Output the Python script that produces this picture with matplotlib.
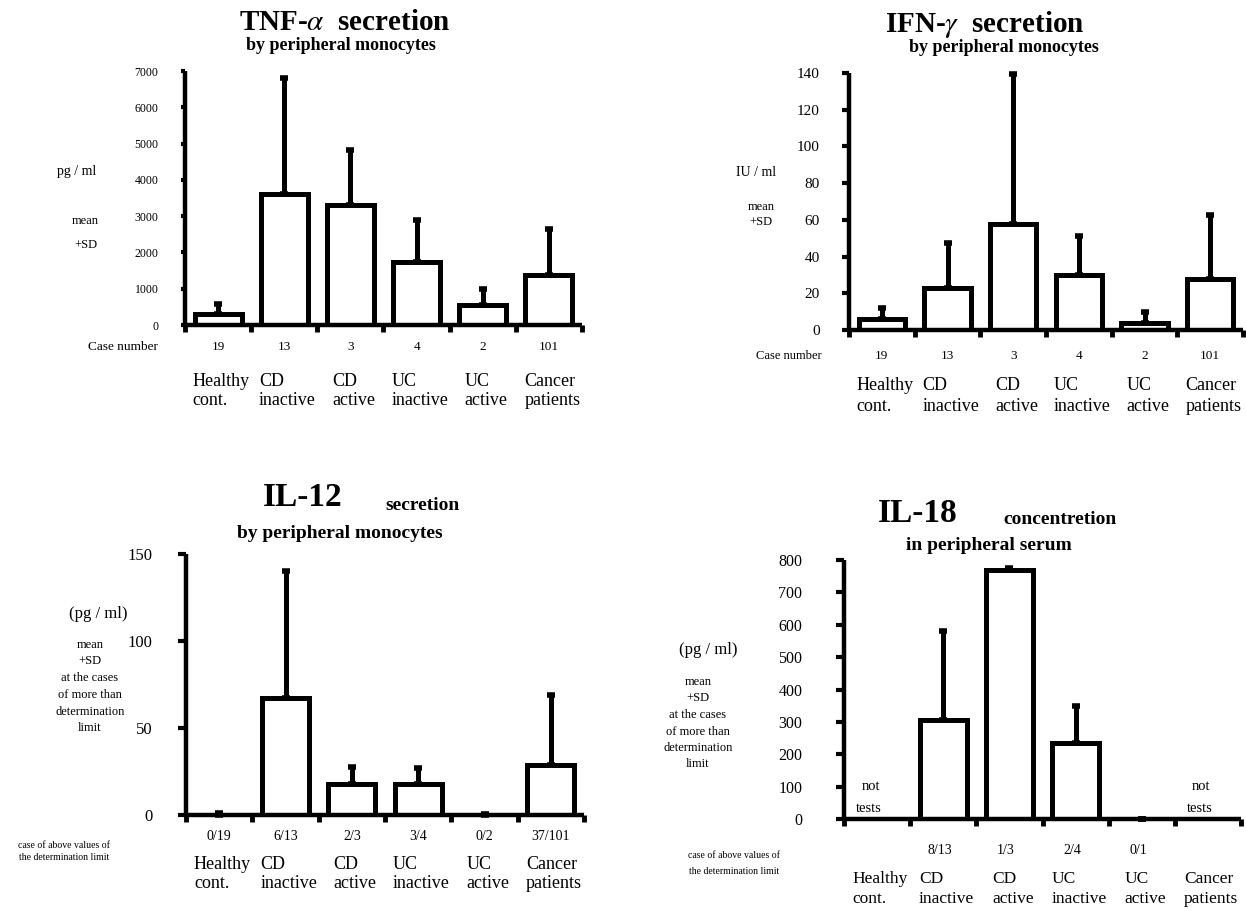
import numpy as np
import matplotlib
matplotlib.use("Agg")
import matplotlib.pyplot as plt
from matplotlib.transforms import blended_transform_factory

plt.rcParams['font.family'] = ['Liberation Serif', 'DejaVu Serif']
plt.rcParams['mathtext.fontset'] = 'stix'

# ---------------- data ----------------
groups = ["Healthy\ncont.", "CD\ninactive", "CD\nactive",
          "UC\ninactive", "UC\nactive", "Cancer\npatients"]

tnf_mean = [300, 3600, 3300, 1750, 560, 1390]
tnf_sd = [280, 3220, 1530, 1140, 430, 1260]
tnf_cases = ["19", "13", "3", "4", "2", "101"]

ifn_mean = [6, 23, 58, 30, 4, 28]
ifn_sd = [6, 24.5, 81.5, 21, 6, 34.5]
ifn_cases = ["19", "13", "3", "4", "2", "101"]

il12_mean = [0, 67, 18, 18, 0, 29]
il12_sd = [1, 73, 9.5, 9, 0.5, 40]
il12_ratio = ["0/19", "6/13", "2/3", "3/4", "0/2", "37/101"]

il18_mean = [np.nan, 305, 768, 234, 0, np.nan]
il18_sd = [np.nan, 275, 8, 116, 0, np.nan]
il18_ratio = ["", "8/13", "1/3", "2/4", "0/1", ""]
il18_not_tested = [0, 5]

ylabel_block = ["mean", "+SD", "at the cases", "of more than", "determination", "limit"]

# ---------------- figure ----------------
W, H = 1246, 911
fig = plt.figure(figsize=(W / 100, H / 100), dpi=100)


def add_ax(left, right, top, bottom):
    return fig.add_axes([left / W, 1 - bottom / H, (right - left) / W, (bottom - top) / H])


def T(px, py, s, **kw):
    kw.setdefault('ha', 'center')
    kw.setdefault('va', 'center')
    return fig.text(px / W, 1 - py / H, s, **kw)


def panel(ax, mean, sd, ymax, step, tick_fs, pad, ticklen):
    mean = np.asarray(mean, dtype=float)
    sd = np.asarray(sd, dtype=float)
    x = np.arange(len(mean))
    ok = np.isfinite(mean)
    ax.bar(x[ok], mean[ok], width=0.71, color='white', edgecolor='black',
           linewidth=3.6, zorder=2)
    cont = ax.errorbar(x[ok], mean[ok], yerr=[np.zeros(ok.sum()), sd[ok]],
                       fmt='none', ecolor='black', elinewidth=3.6, capsize=3,
                       capthick=4, zorder=3)
    for art in cont.get_children():
        art.set_clip_on(False)
    ax.set_xlim(-0.5, len(mean) - 0.5)
    ax.set_ylim(0, ymax)
    ax.set_xticks(np.arange(-0.5, len(mean), 1.0))
    ax.set_xticklabels([])
    ax.set_yticks(np.arange(0, ymax + step / 2, step))
    ax.tick_params(axis='x', direction='out', length=5, width=3.5)
    ax.tick_params(axis='y', direction='out', length=ticklen, width=3,
                   labelsize=tick_fs, pad=pad)
    for s in ['top', 'right']:
        ax.spines[s].set_visible(False)
    for s in ['left', 'bottom']:
        ax.spines[s].set_linewidth(3.2)
        ax.spines[s].set_capstyle('butt')


def under(ax, labels, py, size, dx=0.0, **kw):
    tr = blended_transform_factory(ax.transData, fig.transFigure)
    for i, s in enumerate(labels):
        if s:
            ax.text(i + dx, 1 - py / H, s, transform=tr, ha='center', va='center',
                    size=size, **kw)


# ---- Panel 1: TNF-alpha ----
ax1 = add_ax(185, 582, 71, 325)
panel(ax1, tnf_mean, tnf_sd, 7000, 1000, 8.5, 16, 3)
T(345, 23, "TNF-$\\alpha$  secretion", size=21, weight='bold')
T(341, 46, "by peripheral monocytes", size=13, weight='bold')
T(77, 172, "pg / ml", size=10)
T(85, 221, "mean", size=9)
T(86, 245, "+SD", size=9)
T(123, 347, "Case number", size=9.5)
under(ax1, tnf_cases, 347, 9.5)
under(ax1, groups, 391, 13, dx=0.05, multialignment='left', linespacing=1.2)

# ---- Panel 2: IFN-gamma ----
ax2 = add_ax(849, 1243, 73, 330)
panel(ax2, ifn_mean, ifn_sd, 140, 20, 11, 16, 5)
T(985, 24, "IFN-$\\gamma$  secretion", size=21, weight='bold')
T(1004, 48, "by peripheral monocytes", size=13, weight='bold')
T(756, 173, "IU / ml", size=10)
T(761, 207, "mean", size=9)
T(761, 222, "+SD", size=9)
T(789, 356, "Case number", size=9)
under(ax2, ifn_cases, 356, 9.5)
under(ax2, groups, 396, 13, dx=0.05, multialignment='left', linespacing=1.3)

# ---- Panel 3: IL-12 ----
ax3 = add_ax(186, 584, 554, 815)
panel(ax3, il12_mean, il12_sd, 150, 50, 12, 18, 6)
T(303, 498, "IL-12", size=24, weight='bold')
T(423, 506, "secretion", size=14, weight='bold')
T(340, 534, "by peripheral monocytes", size=14, weight='bold')
T(98, 614, "(pg / ml)", size=12)
for s, py in zip(ylabel_block, [645, 661, 678, 695, 712, 728]):
    T(90, py, s, size=9)
T(64, 845, "case of above values of", size=7)
T(64, 857, "the determination limit", size=7)
under(ax3, il12_ratio, 836, 10)
under(ax3, groups, 874, 13, dx=0.05, multialignment='left', linespacing=1.2)

# ---- Panel 4: IL-18 ----
ax4 = add_ax(844, 1241, 560, 819)
panel(ax4, il18_mean, il18_sd, 800, 100, 11.5, 24, 6)
T(918, 513, "IL-18", size=24, weight='bold')
T(1060, 519, "concentretion", size=14, weight='bold')
T(989, 545, "in peripheral serum", size=14, weight='bold')
T(708, 650, "(pg / ml)", size=12)
for s, py in zip(ylabel_block, [682, 698, 715, 732, 748, 764]):
    T(698, py, s, size=9)
T(734, 856, "case of above values of", size=7)
T(734, 872, "the determination limit", size=7)
under(ax4, il18_ratio, 850, 10, dx=-0.05)
tr4 = blended_transform_factory(ax4.transData, fig.transFigure)
for i in il18_not_tested:
    ax4.text(i - 0.1, 1 - 786 / H, "not", transform=tr4, ha='center', va='center', size=10.5)
    ax4.text(i - 0.12, 1 - 808 / H, "tests", transform=tr4, ha='center', va='center', size=10.5)
under(ax4, groups, 889, 12.5, dx=0.05, multialignment='left', linespacing=1.3)

fig.savefig("out.png", dpi=100)
